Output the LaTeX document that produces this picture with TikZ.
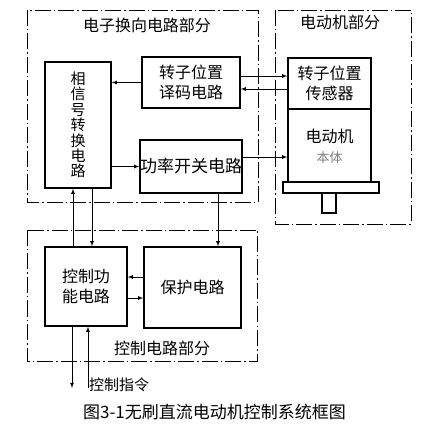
\documentclass[tikz,border=0pt]{standalone}
\usepackage{fontspec}
\setmainfont{Noto Sans CJK SC}
\usetikzlibrary{positioning}
\tikzset{
  blk/.style={draw, line width=1.4pt, inner sep=0pt, align=center, font=\fontsize{16}{20}\selectfont},
  part/.style={line width=0.9pt, dash pattern=on 16pt off 3pt on 1.5pt off 3pt},
  lnk/.style={line width=0.8pt},
  ttl/.style={inner sep=0pt, font=\fontsize{16}{18}\selectfont}
}

\begin{document}
\begin{tikzpicture}[x=1pt, y=-1pt, >=latex]
    \useasboundingbox (0,0) rectangle (429,425);

    \draw[part] (27,10) rectangle (258,202);
    \draw[part] (275,10) rectangle (411,224);
    \draw[part] (27,230) rectangle (257,361);
    \node[ttl] (elec) at (147,25) {电子换向电路部分};
    \node[ttl] (motp) at (340,22) {电动机部分};
    \node[ttl] (ctlp) at (162,348) {控制电路部分};

    \node[blk, minimum width=66pt, minimum height=126pt, font=\fontsize{15}{15.4}\selectfont] (phase) at (78,125) {相\\信\\号\\转\\换\\电\\路};
    \node[blk, minimum width=98pt, minimum height=51pt] (dec) at (191,82.5) {转子位置\\译码电路};
    \node[blk, minimum width=98pt, minimum height=53pt, font=\fontsize{17}{20}\selectfont] (pwr) at (191,166.5) {功率开关电路};
    \node[blk, minimum width=83pt, minimum height=51pt] (sens) at (329.5,83.5) {转子位置\\传感器};
    \node[blk, minimum width=83pt, minimum height=74pt, below=-1.4pt of sens] (mot) {电动机\\\textcolor{gray}{\fontsize{13}{15}\selectfont 本体}};
    \draw[line width=1.4pt, fill=white] (283,182) rectangle (379,193);
    \draw[line width=1.4pt] (322,193) rectangle (336,213);
    \node[blk, minimum width=82pt, minimum height=79pt] (ctrl) at (86,286.5) {控制功\\能电路};
    \node[blk, minimum width=97pt, minimum height=81pt] (prot) at (192.5,287.5) {保护电路};

    \draw[lnk,<-] (phase.east |- dec.west) -- (dec.west);
    \draw[lnk,->] (phase.east |- pwr.west) -- (pwr.west);
    \draw[lnk,->] (dec.east |- 0,76) -- (sens.west |- 0,76);
    \draw[lnk,<-] (dec.east |- 0,89) -- (sens.west |- 0,89);
    \draw[lnk,->] (pwr.east |- 0,157) -- (mot.west |- 0,157);
    \draw[lnk,->] (pwr.south -| 218,0) -- (prot.north -| 218,0);
    \draw[lnk,<-] (phase.south -| 73,0) -- (ctrl.north -| 73,0);
    \draw[lnk,->] (phase.south -| 92,0) -- (ctrl.north -| 92,0);
    \draw[lnk,<-] (ctrl.east |- 0,277) -- (prot.west |- 0,277);
    \draw[lnk,->] (ctrl.east |- 0,298) -- (prot.west |- 0,298);

    \coordinate (out) at (72,388);
    \coordinate (cmd) at (88,388);
    \draw[lnk,->] (ctrl.south -| out) -- (out);
    \draw[lnk,->] (cmd) -- (ctrl.south -| cmd);
    \node[ttl, anchor=west, font=\fontsize{15}{18}\selectfont] (cmdl) at (89,385) {控制指令};

    \node[ttl, font=\fontsize{17}{20}\selectfont] (cap) at (214.5,412) {图3-1无刷直流电动机控制系统框图};
\end{tikzpicture}
\end{document}
